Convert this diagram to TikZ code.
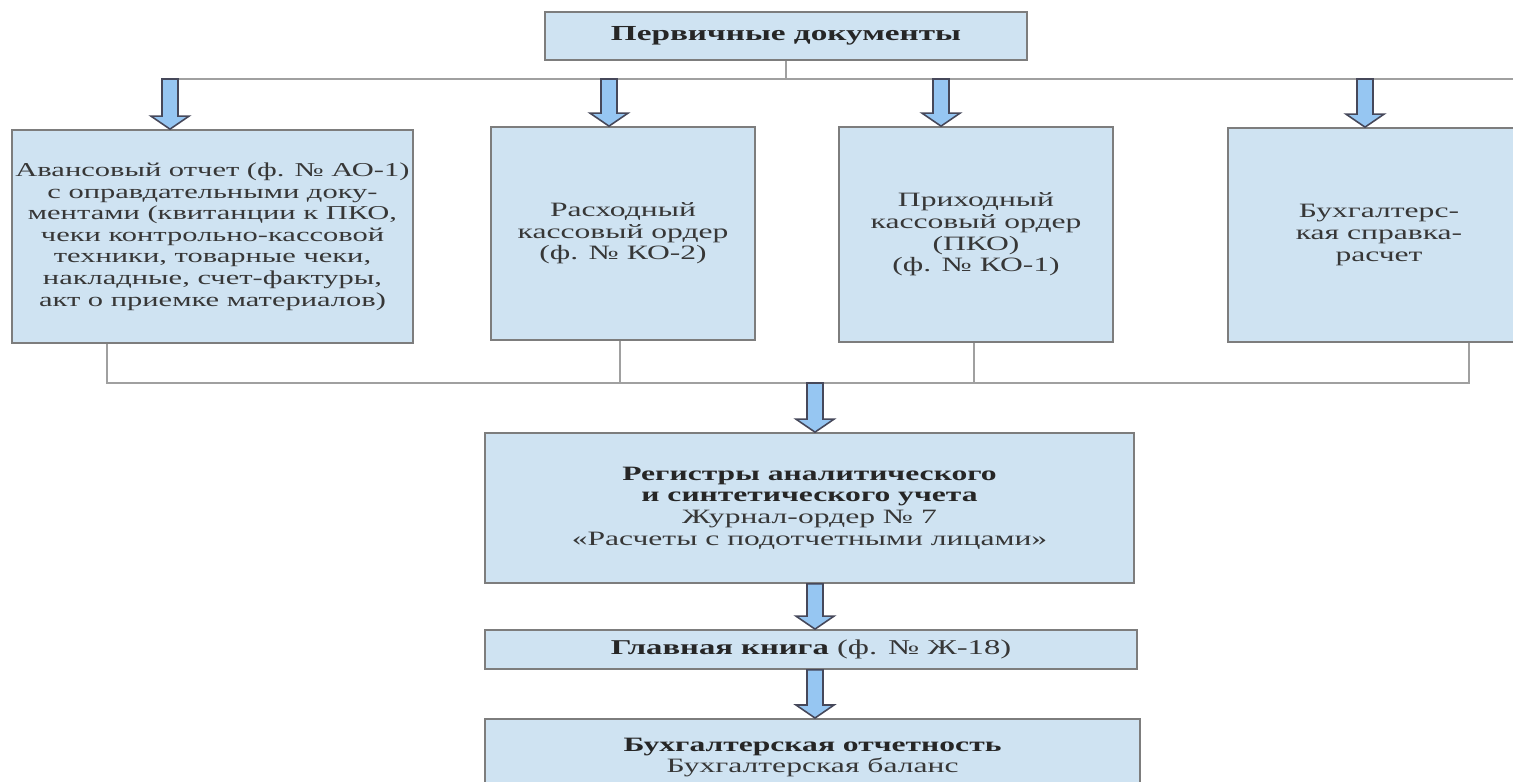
\documentclass[tikz,border=0pt]{standalone}
\usepackage{fontspec}
\setmainfont{Liberation Serif}[FakeStretch=1.55]
\usepackage{tikz}
\usetikzlibrary{calc}
\definecolor{boxfill}{RGB}{207,227,242}
\definecolor{boxline}{RGB}{125,125,125}
\definecolor{arrfill}{RGB}{150,198,242}
\definecolor{arrline}{RGB}{70,72,90}
\definecolor{conline}{RGB}{160,160,160}
\definecolor{txt}{RGB}{55,55,55}
\tikzset{
  box/.style={draw=boxline, fill=boxfill, line width=1pt, align=center, inner sep=2pt,
    text=txt, font=\fontsize{11.6}{12.3}\selectfont},
  conn/.style={draw=conline, line width=1pt},
  blockarrow/.style={draw=arrline, fill=arrfill, line width=0.9pt, line join=miter}
}
% блочная стрелка от #1 вниз до #2
\newcommand{\blockarrow}[2]{%
  \draw[blockarrow] ($(#1)+(-8,0)$) -- ($(#2)+(-8,-13)$) -- ($(#2)+(-19,-13)$) -- (#2)
    -- ($(#2)+(19,-13)$) -- ($(#2)+(8,-13)$) -- ($(#1)+(8,0)$) -- cycle;}
\begin{document}
\begin{tikzpicture}[x=0.02cm, y=-0.02cm]
  \useasboundingbox (0,0) rectangle (1513,781);
  % верхний блок
  \node[box, minimum width=9.64cm, minimum height=0.96cm, font=\fontsize{12.2}{13}\selectfont\bfseries, text=black!85]
    (perv) at (786,36) {Первичные документы};
  % документы
  \node[box, minimum width=8.02cm, minimum height=4.26cm, inner xsep=0pt,
    font=\fontsize{11.2}{12.3}\selectfont] (avans) at (212.5,236.5)
    {Авансовый отчет (ф. № АО-1)\\с оправдательными доку-\\ментами (квитанции к ПКО,\\чеки контрольно-кассовой\\техники, товарные чеки,\\накладные, счет-фактуры,\\акт о приемке материалов)};
  \node[box, minimum width=5.28cm, minimum height=4.26cm] (rko) at (623,233.5)
    {Расходный\\кассовый ордер\\(ф. № КО-2)};
  \node[box, minimum width=5.48cm, minimum height=4.3cm] (pko) at (976,234.5)
    {Приходный\\кассовый ордер\\(ПКО)\\(ф. № КО-1)};
  \node[box, minimum width=6.04cm, minimum height=4.28cm] (spravka) at (1379,235)
    {Бухгалтерс-\\кая справка-\\расчет};
  % регистры и отчетность
  \node[box, minimum width=12.98cm, minimum height=3cm] (reg) at (809.5,508)
    {\textbf{\color{black!85}Регистры аналитического}\\\textbf{\color{black!85}и синтетического учета}\\Журнал-ордер № 7\\«Расчеты с подотчетными лицами»};
  \node[box, minimum width=13.04cm, minimum height=0.78cm, font=\fontsize{12}{13}\selectfont] (kniga) at (811,649.5)
    {\textbf{\color{black!85}Главная книга} (ф. № Ж-18)};
  \node[box, minimum width=13.1cm, minimum height=1.54cm, anchor=north] (otchet) at (812.5,718)
    {\textbf{\color{black!85}Бухгалтерская отчетность}\\Бухгалтерская баланс};

  % верхняя шина
  \coordinate (a1) at (170,79);
  \coordinate (a2) at (609,79);
  \coordinate (a3) at (941,79);
  \coordinate (a4) at (1365,79);
  \coordinate (busR) at (1520,79);
  \draw[conn] (perv.south) -- (perv.south |- a1);
  \draw[conn] (a1) -- (busR);
  \blockarrow{a1}{a1 |- avans.north}
  \blockarrow{a2}{a2 |- rko.north}
  \blockarrow{a3}{a3 |- pko.north}
  \blockarrow{a4}{a4 |- spravka.north}

  % нижняя шина
  \coordinate (c1) at (107,383);
  \coordinate (c2) at (620,383);
  \coordinate (c3) at (974,383);
  \coordinate (c4) at (1469,383);
  \coordinate (c5) at (815,383);
  \draw[conn] (c1 |- avans.south) -- (c1) -- (c4) -- (c4 |- spravka.south);
  \draw[conn] (c2 |- rko.south) -- (c2);
  \draw[conn] (c3 |- pko.south) -- (c3);
  \blockarrow{c5}{c5 |- reg.north}
  \blockarrow{c5 |- reg.south}{c5 |- kniga.north}
  \blockarrow{c5 |- kniga.south}{c5 |- otchet.north}
\end{tikzpicture}
\end{document}
